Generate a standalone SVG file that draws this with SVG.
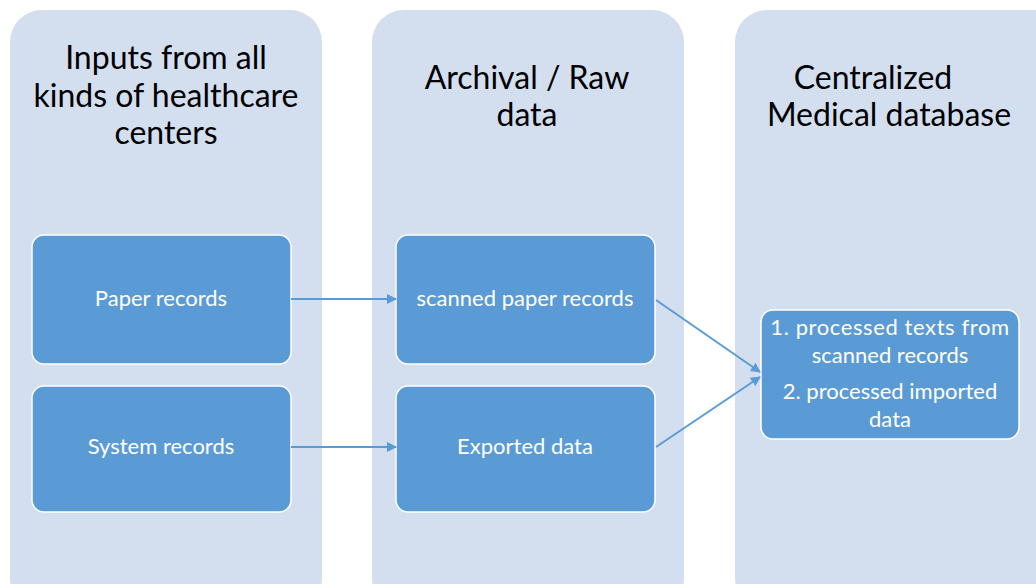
<svg xmlns="http://www.w3.org/2000/svg" width="1036" height="584" viewBox="0 0 1036 584">
<defs>
<style>
.panel{fill:#D3DEEF;}
.box{fill:#5B9BD5;stroke:#FFFFFF;stroke-width:1.5;}
.title{font-family:Lato,"Open Sans",sans-serif;font-size:32px;fill:#000;text-anchor:middle;}
.lbl{font-family:Lato,"Open Sans",sans-serif;font-size:22px;fill:#FFFFFF;text-anchor:middle;}
.conn{stroke:#5B9BD5;stroke-width:2;fill:none;marker-end:url(#ah);}
</style>
<marker id="ah" viewBox="0 0 10 10" refX="9" refY="5" markerWidth="5" markerHeight="5" orient="auto" markerUnits="strokeWidth">
<path d="M0,0 L10,5 L0,10 z" fill="#5B9BD5"/>
</marker>
</defs>
<rect width="1036" height="584" fill="#FFFFFF"/>
<g id="panel-inputs">
<rect class="panel" x="10" y="10" width="312" height="600" rx="32"/>
<text class="title" x="166" y="69">Inputs from all</text>
<text class="title" x="166" y="107">kinds of healthcare</text>
<text class="title" x="166" y="144">centers</text>
</g>
<g id="panel-archival">
<rect class="panel" x="372" y="10" width="312" height="600" rx="32"/>
<text class="title" x="527" y="89">Archival / Raw</text>
<text class="title" x="527" y="126">data</text>
</g>
<g id="panel-central">
<rect class="panel" x="735" y="10" width="340" height="600" rx="32"/>
<text class="title" x="873" y="89">Centralized</text>
<text class="title" x="889" y="126">Medical database</text>
</g>
<g id="node-paper">
<rect class="box" x="32" y="235" width="259" height="129" rx="12"/>
<text class="lbl" x="161" y="306">Paper records</text>
</g>
<g id="node-system">
<rect class="box" x="32" y="386" width="259" height="126" rx="12"/>
<text class="lbl" x="161" y="454">System records</text>
</g>
<g id="node-scanned">
<rect class="box" x="396" y="235" width="259" height="129" rx="12"/>
<text class="lbl" x="525" y="306">scanned paper records</text>
</g>
<g id="node-exported">
<rect class="box" x="396" y="386" width="259" height="126" rx="12"/>
<text class="lbl" x="525" y="454">Exported data</text>
</g>
<g id="node-processed">
<rect class="box" x="761" y="310" width="258" height="129" rx="12"/>
<text class="lbl" x="890" y="335" letter-spacing="0.6">1. processed texts from</text>
<text class="lbl" x="890" y="363">scanned records</text>
<text class="lbl" x="890" y="399">2.  processed imported</text>
<text class="lbl" x="890" y="427">data</text>
</g>
<g id="connectors">
<line class="conn" x1="291" y1="299" x2="396" y2="299"/>
<line class="conn" x1="291" y1="447" x2="396" y2="447"/>
<line class="conn" x1="656" y1="300" x2="760" y2="372"/>
<line class="conn" x1="656" y1="447" x2="760" y2="377"/>
</g>
</svg>
